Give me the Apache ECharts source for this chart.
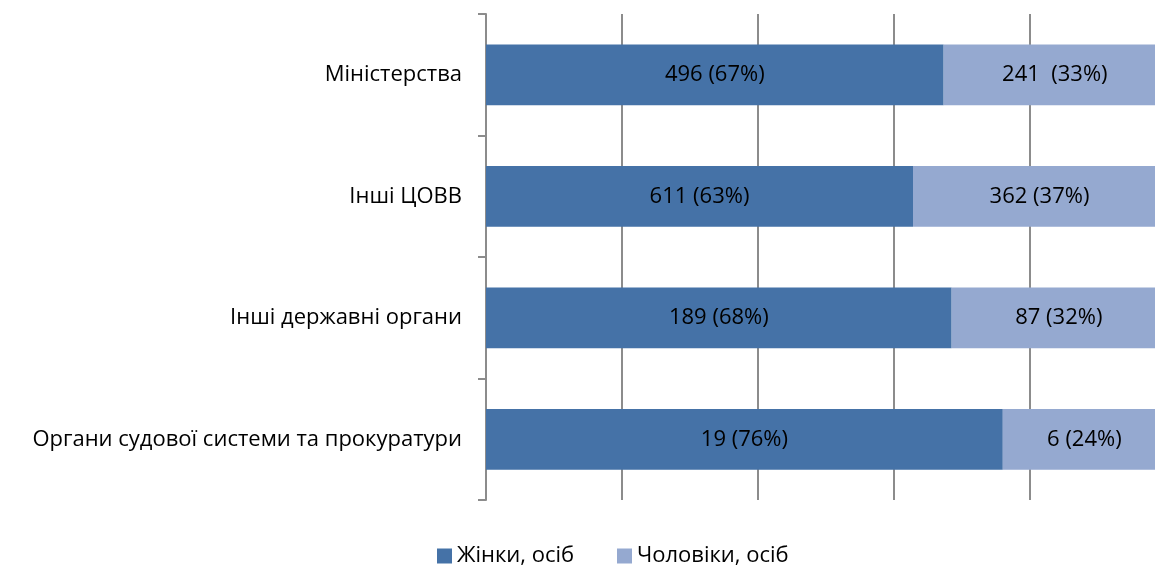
<!DOCTYPE html>
<html>
<head>
<meta charset="utf-8">
<script src="https://cdn.jsdelivr.net/npm/echarts@6/dist/echarts.min.js"></script>
<style>
html, body { margin: 0; padding: 0; background: #fff; overflow: hidden; width: 1155px; height: 567px; }
#chart { width: 1166px; height: 567px; }
</style>
</head>
<body>
<div id="chart"></div>
<script>
var categories = ['Міністерства', 'Інші ЦОВВ', 'Інші державні органи', 'Органи судової системи та прокуратури'];
var women = [496, 611, 189, 19];
var men = [241, 362, 87, 6];
var womenPct = [67, 63, 68, 76];
var menPct = [33, 37, 32, 24];
var seriesNames = ['Жінки, осіб', 'Чоловіки, осіб'];

var font = 'Open Sans, Noto Sans, sans-serif';
var womenShare = [], menShare = [];
for (var i = 0; i < categories.length; i++) {
	var total = women[i] + men[i];
	womenShare.push(women[i] / total * 100);
	menShare.push(men[i] / total * 100);
}

// 100% mark sits just past the right edge of the picture (chart is 1166 wide, page cuts at 1155)
var chart = echarts.init(document.getElementById('chart'));
var legendStyle = {
	top: 540,
	itemWidth: 15,
	itemHeight: 15,
	itemGap: 7,
	icon: 'rect',
	textStyle: { fontSize: 22, color: '#000', fontFamily: font }
};
chart.setOption({
	animation: false,
	textStyle: { fontFamily: font },
	grid: { left: 486, right: 0, top: 14, bottom: 67, containLabel: false },
	legend: [
		Object.assign({ left: 432, data: [seriesNames[0]] }, legendStyle),
		Object.assign({ left: 612, data: [seriesNames[1]] }, legendStyle)
	],
	xAxis: {
		type: 'value',
		min: 0,
		max: 100,
		interval: 20,
		axisLine: { show: false },
		axisTick: { show: false },
		axisLabel: { show: false },
		splitLine: { show: true, lineStyle: { color: '#8c8c8c', width: 2 } }
	},
	yAxis: {
		type: 'category',
		inverse: true,
		data: categories,
		axisLine: { show: true, lineStyle: { color: '#8c8c8c', width: 2 } },
		axisTick: { show: true, length: 8, lineStyle: { color: '#8c8c8c', width: 2 } },
		axisLabel: { fontSize: 22, color: '#000', margin: 24, fontFamily: font }
	},
	series: [{
		name: seriesNames[0],
		type: 'bar',
		stack: 'total',
		barWidth: '50%',
		itemStyle: { color: '#4572a7' },
		label: {
			show: true,
			position: 'inside',
			color: '#000',
			fontSize: 22,
			fontFamily: font,
			formatter: function (p) { return women[p.dataIndex] + ' (' + womenPct[p.dataIndex] + '%)'; }
		},
		data: womenShare
	}, {
		name: seriesNames[1],
		type: 'bar',
		stack: 'total',
		barWidth: '50%',
		itemStyle: { color: '#95a9d0' },
		label: {
			show: true,
			position: 'inside',
			color: '#000',
			fontSize: 22,
			fontFamily: font,
			formatter: function (p) {
				var gap = p.dataIndex === 0 ? '  ' : ' ';
				return men[p.dataIndex] + gap + '(' + menPct[p.dataIndex] + '%)';
			}
		},
		data: menShare
	}]
});
</script>
</body>
</html>
